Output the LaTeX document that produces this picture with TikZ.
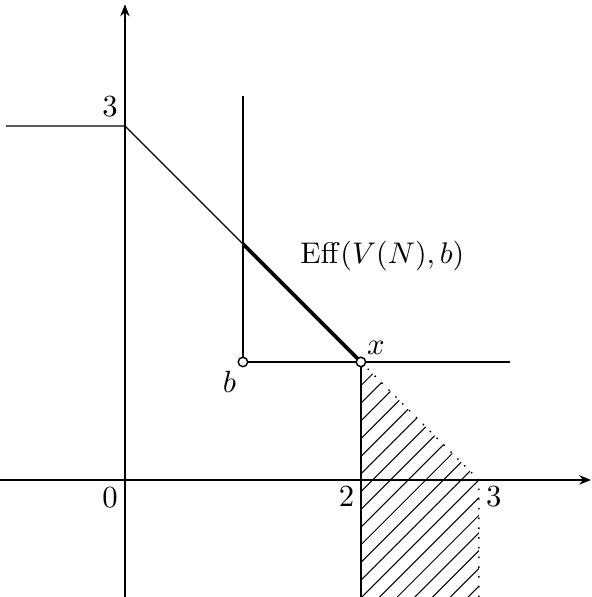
\documentclass[tikz,border=0pt]{standalone}
\usetikzlibrary{arrows.meta}
\begin{document}
\begin{tikzpicture}[x=1cm,y=1cm,
  lbl/.style={inner sep=1pt, scale=0.74, transform shape},
  axis/.style={line width=0.3pt, -{Stealth[length=1mm,width=0.8mm]}},
  thin line/.style={line width=0.3pt},
  eff/.style={line width=0.9pt},
  hatch/.style={line width=0.25pt},
  dotb/.style={line width=0.35pt, dotted},
  pt/.style={circle, draw, fill=white, line width=0.35pt, inner sep=0pt, minimum size=0.08cm}]
\useasboundingbox (-1.059,-0.992) rectangle (3.958,4.068);
% coordinates
\coordinate (O) at (0,0);
\coordinate (L3) at (-1.01,3);
\coordinate (A) at (0,3);
\coordinate (P) at (1,2);
\coordinate (Q) at (2,1);
\coordinate (C) at (3,0);
\coordinate (Xl) at (-1.06,0);
\coordinate (Xr) at (3.95,0);
\coordinate (Yb) at (0,-0.992);
\coordinate (Yt) at (0,4.03);
\coordinate (Btop) at (1,3.25);
\coordinate (Bright) at (3.26,1);
\coordinate (Qb) at (2,-0.992);
\coordinate (Cb) at (3,-0.992);
% hatching
\begin{scope}
\clip (Q) -- (C) -- (Cb) -- (Qb) -- cycle;
\foreach \c in {-1.2,-1.05,...,3.2}
  \draw[hatch] (\c,-1.2) -- ++(2.6,2.6);
\end{scope}
% axes
\draw[axis] (Xl) -- (Xr);
\draw[axis] (Yb) -- (Yt);
% boundaries
\draw[thin line] (L3) -- (A) -- (P);
\draw[eff] (P) -- (Q);
\draw[dotb] (Q) -- (C) -- (Cb);
\draw[thin line] (Q) -- (Qb);
\draw[thin line] (Btop) -- (1,1) -- (Bright);
% points
\node[pt] (b) at (1,1) {};
\node[pt] (x) at (Q) {};
% labels
\node[lbl] (l3) at (-0.127,3.161) {$3$};
\node[lbl] (l0) at (-0.127,-0.153) {$0$};
\node[lbl] (l2) at (1.879,-0.144) {$2$};
\node[lbl] (l3b) at (3.127,-0.144) {$3$};
\node[lbl] (lb) at (0.886,0.83) {$b$};
\node[lbl] (lx) at (2.127,1.119) {$x$};
\node[lbl, scale=0.973] (leff) at (2.182,1.894) {$\mathrm{Eff}(V(N),b)$};
\end{tikzpicture}
\end{document}
